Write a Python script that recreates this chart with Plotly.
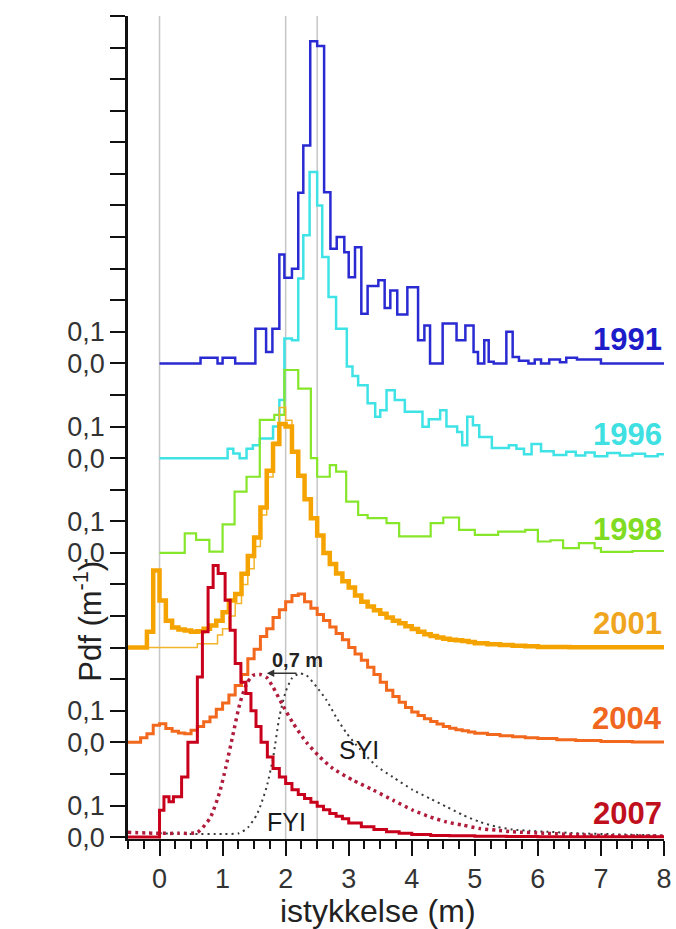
import plotly.graph_objects as go

# ---------------- data ----------------
YEARS = ["1991", "1996", "1998", "2001", "2004", "2007"]
OFFSETS = [1.5, 1.2, 0.9, 0.6, 0.3, 0.0]
COLORS = ["#2a2ad2", "#3fe3e6", "#86e62a", "#f5a300", "#f2681c", "#c8001c"]
LABEL_COLORS = ["#1c1cc8", "#3ee0e2", "#80dc22", "#f0a51e", "#f0661e", "#c0101e"]

E1991 = [0.0, 0.65, 0.92, 1.0, 1.2, 1.52, 1.69, 1.79, 1.9, 1.98, 2.1, 2.2, 2.28, 2.39, 2.5, 2.61,
         2.71, 2.81, 2.93, 3.0, 3.1, 3.2, 3.3, 3.47, 3.57, 3.66, 3.77, 3.93, 4.1, 4.2, 4.29, 4.49,
         4.71, 4.85, 4.98, 5.05, 5.15, 5.22, 5.3, 5.5, 5.6, 5.7, 5.85, 5.95, 6.05, 6.18, 6.35, 6.45,
         6.62, 7.0, 8.0]
V1991 = [0, 0.018, 0, 0.018, 0, 0.11, 0.036, 0.11, 0.345, 0.271, 0.30, 0.54, 0.69, 1.02, 1.005,
         0.542, 0.363, 0.40, 0.352, 0.273, 0.368, 0.157, 0.245, 0.263, 0.175, 0.231, 0.155, 0.241,
         0.073, 0.12, 0.0, 0.126, 0.073, 0.12, 0.036, 0.0, 0.073, 0.005, 0.0, 0.1, 0.02, 0.008,
         0.0, 0.012, 0.0, 0.012, 0.004, 0.018, 0.012, 0.0]

E1996 = [0.0, 1.08, 1.17, 1.27, 1.38, 1.48, 1.59, 1.8, 1.9, 1.98, 2.1, 2.2, 2.28, 2.38, 2.5, 2.58,
         2.68, 2.8, 2.97, 3.06, 3.15, 3.3, 3.42, 3.5, 3.6, 3.73, 3.89, 4.17, 4.27, 4.45, 4.55, 4.72,
         4.8, 4.88, 4.97, 5.07, 5.27, 5.54, 5.66, 5.78, 5.9, 6.05, 6.25, 6.45, 6.6, 6.75, 6.9, 7.1,
         7.3, 7.5, 7.7, 7.9, 8.0]
V1996 = [0.0, 0.03, 0.015, 0.0, 0.03, 0.041, 0.062, 0.1, 0.184, 0.379, 0.373, 0.569, 0.706, 0.906,
         0.80, 0.637, 0.51, 0.41, 0.29, 0.26, 0.231, 0.174, 0.131, 0.152, 0.215, 0.184, 0.147, 0.099,
         0.123, 0.152, 0.1, 0.083, 0.041, 0.131, 0.104, 0.067, 0.032, 0.041, 0.03, 0.012, 0.045,
         0.022, 0.01, 0.02, 0.008, 0.018, 0.006, 0.016, 0.008, 0.014, 0.006, 0.012]

E1998 = [0.0, 0.4, 0.58, 0.79, 1.0, 1.19, 1.38, 1.59, 1.82, 1.98, 2.2, 2.4, 2.5, 2.7, 2.8, 2.96,
         3.15, 3.3, 3.6, 3.8, 4.3, 4.5, 4.75, 5.0, 5.37, 5.8, 6.0, 6.2, 6.4, 6.65, 6.9, 7.0, 7.5, 8.0]
V1998 = [0.0, 0.062, 0.041, 0.004, 0.09, 0.194, 0.241, 0.421, 0.437, 0.579, 0.52, 0.30, 0.241,
         0.278, 0.257, 0.162, 0.12, 0.11, 0.094, 0.052, 0.094, 0.112, 0.073, 0.057, 0.067, 0.073,
         0.036, 0.04, 0.015, 0.031, 0.015, 0.003, 0.006]

E2001 = [-0.5, -0.2, -0.1, 0.0, 0.1, 0.2, 0.3, 0.4, 0.5, 0.6, 0.7, 0.8, 0.9, 1.0, 1.1, 1.2, 1.3,
         1.4, 1.5, 1.6, 1.7, 1.8, 1.9, 2.0, 2.1, 2.2, 2.3, 2.4, 2.5, 2.6, 2.7, 2.8, 2.9, 3.0, 3.1,
         3.2, 3.3, 3.4, 3.5, 3.6, 3.7, 3.8, 3.9, 4.0, 4.1, 4.2, 4.3, 4.4, 4.5, 4.6, 4.7, 4.8, 4.9,
         5.0, 5.2, 5.4, 5.6, 5.8, 6.0, 6.5, 8.0]
V2001 = [0, 0.05, 0.244, 0.149, 0.085, 0.064, 0.057, 0.054, 0.05, 0.052, 0.06, 0.07, 0.085,
         0.112, 0.149, 0.17, 0.234, 0.29, 0.349, 0.444, 0.56, 0.645, 0.708, 0.70, 0.62, 0.544,
         0.47, 0.41, 0.355, 0.30, 0.265, 0.235, 0.21, 0.19, 0.165, 0.145, 0.13, 0.118, 0.107,
         0.095, 0.085, 0.077, 0.068, 0.059, 0.05, 0.042, 0.037, 0.032, 0.028, 0.025, 0.023,
         0.021, 0.018, 0.014, 0.011, 0.008, 0.006, 0.004, 0.002, 0.001]

E2001_THIN = [-0.5, 0.6, 0.92, 1.0, 1.1, 1.2, 1.3, 1.4, 1.5, 1.6, 1.7, 1.8, 1.9, 2.0, 2.1, 2.2]
V2001_THIN = [0, 0.012, 0.04, 0.06, 0.10, 0.14, 0.20, 0.25, 0.32, 0.42, 0.54, 0.65, 0.76, 0.72, 0.62]

E2004 = [-0.5, -0.4, -0.3, -0.2, -0.1, 0.0, 0.1, 0.2, 0.3, 0.4, 0.5, 0.6, 0.7, 0.8, 0.9, 1.0,
         1.1, 1.2, 1.3, 1.4, 1.5, 1.6, 1.7, 1.8, 1.9, 2.0, 2.1, 2.2, 2.3, 2.4, 2.5, 2.6, 2.7, 2.8,
         2.9, 3.0, 3.1, 3.2, 3.3, 3.4, 3.5, 3.6, 3.7, 3.8, 3.9, 4.0, 4.1, 4.2, 4.3, 4.4, 4.5, 4.6,
         4.7, 4.8, 4.9, 5.0, 5.2, 5.4, 5.6, 5.8, 6.0, 6.3, 6.6, 7.0, 7.5, 8.0]
V2004 = [0, 0, 0.015, 0.027, 0.054, 0.059, 0.044, 0.035, 0.03, 0.027, 0.038, 0.05, 0.065, 0.08,
         0.105, 0.125, 0.15, 0.18, 0.215, 0.265, 0.295, 0.335, 0.36, 0.395, 0.42, 0.445, 0.465,
         0.47, 0.445, 0.425, 0.405, 0.386, 0.365, 0.345, 0.325, 0.30, 0.28, 0.26, 0.238, 0.215,
         0.19, 0.165, 0.145, 0.127, 0.11, 0.096, 0.085, 0.075, 0.066, 0.058, 0.05, 0.045, 0.04,
         0.037, 0.033, 0.029, 0.025, 0.021, 0.018, 0.015, 0.012, 0.008, 0.006, 0.003, 0.001]

E2007 = [-0.5, 0.0, 0.07, 0.15, 0.22, 0.35, 0.45, 0.6, 0.68, 0.77, 0.85, 0.93, 1.04, 1.12, 1.2,
         1.29, 1.37, 1.45, 1.53, 1.61, 1.71, 1.8, 1.9, 2.0, 2.1, 2.2, 2.3, 2.4, 2.5, 2.6, 2.7, 2.8,
         2.9, 3.0, 3.2, 3.4, 3.6, 3.8, 4.0, 4.3, 4.6, 5.0, 5.5, 6.0, 8.0]
V2007 = [0, 0.085, 0.128, 0.112, 0.128, 0.19, 0.30, 0.507, 0.65, 0.79, 0.86, 0.835, 0.75, 0.655,
         0.55, 0.49, 0.455, 0.40, 0.35, 0.30, 0.254, 0.217, 0.19, 0.17, 0.15, 0.135, 0.122, 0.11,
         0.098, 0.087, 0.075, 0.066, 0.058, 0.045, 0.033, 0.024, 0.017, 0.012, 0.008, 0.005,
         0.004, 0.003, 0.002, 0.001]

X_FYI = [-0.5, 0.0, 0.3, 0.6, 0.8, 0.95, 1.05, 1.16, 1.27, 1.38, 1.48, 1.6, 1.7, 1.8, 1.96, 2.12,
         2.33, 2.54, 2.75, 3.07, 3.39, 3.7, 4.02, 4.29, 4.55, 4.81, 5.08, 5.34, 5.6, 6.14, 6.67,
         7.3, 8.0]
Y_FYI = [0.015, 0.012, 0.012, 0.015, 0.06, 0.14, 0.22, 0.32, 0.42, 0.485, 0.512, 0.515, 0.505,
         0.475, 0.415, 0.36, 0.30, 0.254, 0.217, 0.18, 0.149, 0.117, 0.085, 0.064, 0.048, 0.038,
         0.027, 0.022, 0.017, 0.012, 0.007, 0.004, 0.003]

X_SYI = [0.0, 0.5, 1.0, 1.26, 1.4, 1.54, 1.62, 1.7, 1.8, 1.9, 2.0, 2.1, 2.22, 2.33, 2.49, 2.65,
         2.8, 2.97, 3.17, 3.44, 3.7, 4.02, 4.29, 4.55, 4.81, 5.08, 5.34, 5.6, 5.87, 6.14, 6.67,
         7.2, 8.0]
Y_SYI = [0.012, 0.01, 0.01, 0.012, 0.03, 0.07, 0.11, 0.16, 0.25, 0.38, 0.46, 0.503, 0.518,
         0.512, 0.476, 0.433, 0.38, 0.328, 0.28, 0.225, 0.19, 0.149, 0.122, 0.096, 0.07, 0.048,
         0.033, 0.024, 0.02, 0.017, 0.012, 0.009, 0.005]

X_TICKS = [0, 1, 2, 3, 4, 5, 6, 7, 8]
Y_TICKVALS = [0.0, 0.1, 0.2, 0.3, 0.4, 0.5, 0.6, 0.7, 0.8, 0.9, 1.0, 1.1, 1.2, 1.3, 1.4, 1.5,
              1.6, 1.7, 1.8, 1.9, 2.0, 2.1, 2.2, 2.3, 2.4, 2.5, 2.6]
Y_TICKTEXT = ["0,0", "0,1", "", "0,0", "0,1", "", "", "", "", "0,0", "0,1", "", "0,0",
              "0,1", "", "0,0", "0,1", "", "", "", "", "", "", "", "", "", ""]
REF_LINES = [0, 2, 2.5]

FONT = "Liberation Sans, Arial, sans-serif"


def step_trace(edges, vals, off, color, width):
    ys = [v + off for v in vals] + [vals[-1] + off]
    return go.Scatter(x=edges, y=ys, mode="lines",
                      line=dict(color=color, width=width, shape="hv"),
                      hoverinfo="skip", showlegend=False)


fig = go.Figure()
fig.add_trace(step_trace(E1991, V1991, OFFSETS[0], COLORS[0], 2.5))
fig.add_trace(step_trace(E1996, V1996, OFFSETS[1], COLORS[1], 2.5))
fig.add_trace(step_trace(E1998, V1998, OFFSETS[2], COLORS[2], 2.2))
fig.add_trace(step_trace(E2001_THIN, V2001_THIN, OFFSETS[3], "#f2b42a", 1.5))
fig.add_trace(step_trace(E2001, V2001, OFFSETS[3], COLORS[3], 4.5))
fig.add_trace(step_trace(E2004, V2004, OFFSETS[4], COLORS[4], 3))
fig.add_trace(go.Scatter(x=X_SYI, y=Y_SYI, mode="lines",
                         line=dict(color="#3a3a3a", width=2, dash="2px,4px",
                                   shape="spline", smoothing=0.6),
                         hoverinfo="skip", showlegend=False))
fig.add_trace(go.Scatter(x=X_FYI, y=Y_FYI, mode="lines",
                         line=dict(color="#b01c3c", width=3.5, dash="3px,4px",
                                   shape="spline", smoothing=0.6),
                         hoverinfo="skip", showlegend=False))
fig.add_trace(step_trace(E2007, V2007, OFFSETS[5], COLORS[5], 3))

shapes = [dict(type="line", xref="x", yref="paper", x0=v, x1=v, y0=0, y1=1,
               line=dict(color="#c6c6c6", width=1.5), layer="below") for v in REF_LINES]

annotations = []
for yr, off, col in zip(YEARS, OFFSETS, LABEL_COLORS):
    annotations.append(dict(x=8, y=off + 0.075, xref="x", yref="y", text="<b>%s</b>" % yr,
                            showarrow=False, xanchor="right", yanchor="middle",
                            font=dict(family=FONT, size=31, color=col)))
annotations += [
    dict(x=1.7, y=0.519, ax=2.22, ay=0.519, xref="x", yref="y", axref="x", ayref="y",
         text=" ", showarrow=True, arrowhead=2, arrowsize=1, arrowwidth=1.5, arrowcolor="#333"),
    dict(x=2.19, y=0.56, xref="x", yref="y", text="<b>0,7 m</b>", showarrow=False,
         font=dict(family=FONT, size=20, color="#222")),
    dict(x=3.16, y=0.275, xref="x", yref="y", text="SYI", showarrow=False,
         font=dict(family=FONT, size=25, color="#1a1a1a")),
    dict(x=2.02, y=0.047, xref="x", yref="y", text="FYI", showarrow=False,
         font=dict(family=FONT, size=25, color="#1a1a1a")),
    dict(x=-0.0746, y=0.264, xref="paper", yref="paper", text="Pdf (m<sup>-1</sup>)",
         showarrow=False, textangle=-90, xanchor="center", yanchor="middle",
         font=dict(family=FONT, size=31, color="#222")),
    dict(x=0.466, y=-0.088, xref="paper", yref="paper", text="istykkelse (m)",
         showarrow=False, xanchor="center", yanchor="middle",
         font=dict(family=FONT, size=32, color="#222")),
]

fig.update_layout(
    width=676, height=929,
    margin=dict(l=128, r=12, t=16, b=90),
    paper_bgcolor="white", plot_bgcolor="white",
    showlegend=False,
    shapes=shapes, annotations=annotations,
    xaxis=dict(range=[-0.5, 8], tickvals=X_TICKS, ticktext=[str(t) for t in X_TICKS],
               automargin=False,
               showgrid=False, zeroline=False, showline=True, linecolor="#111", linewidth=2,
               ticks="outside", ticklen=15, tickwidth=2, tickcolor="#111",
               minor=dict(dtick=0.25, tick0=0, ticks="outside", ticklen=8, tickwidth=1.5,
                          tickcolor="#111", showgrid=False),
               tickfont=dict(family=FONT, size=27, color="#333")),
    yaxis=dict(range=[-0.006, 2.6], tickvals=Y_TICKVALS, ticktext=Y_TICKTEXT,
               automargin=False,
               showgrid=False, zeroline=False, showline=True, linecolor="#111", linewidth=2.5,
               ticks="outside", ticklen=15, tickwidth=2, tickcolor="#111",
               tickfont=dict(family=FONT, size=27, color="#333")),
)

fig.write_html("out.html")
